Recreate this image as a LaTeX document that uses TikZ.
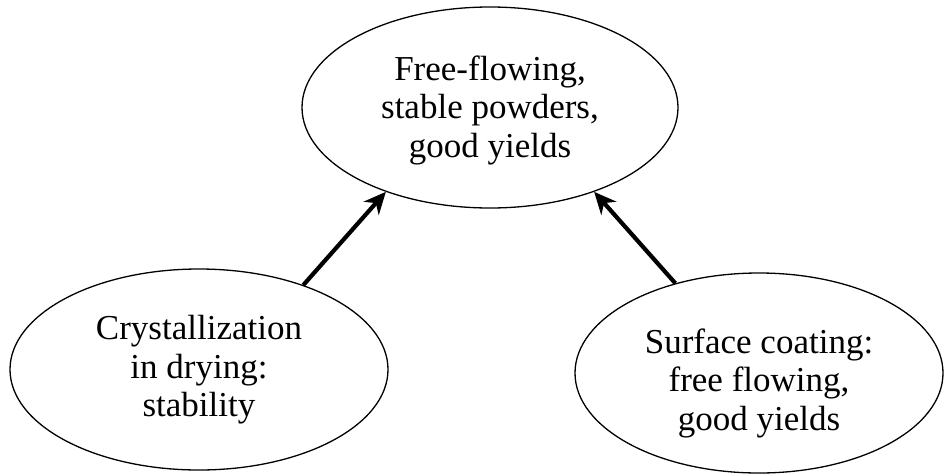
\documentclass[tikz,border=0pt]{standalone}
\usepackage{fontspec}
\setmainfont{Liberation Serif}
\usetikzlibrary{shapes.geometric,arrows.meta}
\begin{document}
\begin{tikzpicture}[x=1pt,y=-1pt,
  goal/.style={draw, line width=1.3pt, ellipse, inner sep=0pt},
  words/.style={align=center, inner sep=0pt, font=\fontsize{35}{38.5}\selectfont},
  push/.style={line width=4.2pt, -{Stealth[length=22pt,width=20pt,inset=7pt]}}]
\useasboundingbox (0,0) rectangle (944,474);
% three ellipses
\node[goal, minimum width=376pt, minimum height=201pt] (top) at (490,107.5) {};
\node[goal, minimum width=378pt, minimum height=201pt] (left) at (199,369.5) {};
\node[goal, minimum width=368pt, minimum height=200pt] (right) at (759,373) {};
% their texts
\node[words] (toptext) at (490,110) {Free-flowing,\\stable powders,\\good yields};
\node[words] (lefttext) at (199,370) {Crystallization\\in drying:\\stability};
\node[words] (righttext) at (759,383) {Surface coating:\\free flowing,\\good yields};
% arrows into the goal
\draw[push] (left.39) -- (top.219.4);
\draw[push] (right.133.6) -- (top.321.6);
\end{tikzpicture}
\end{document}
